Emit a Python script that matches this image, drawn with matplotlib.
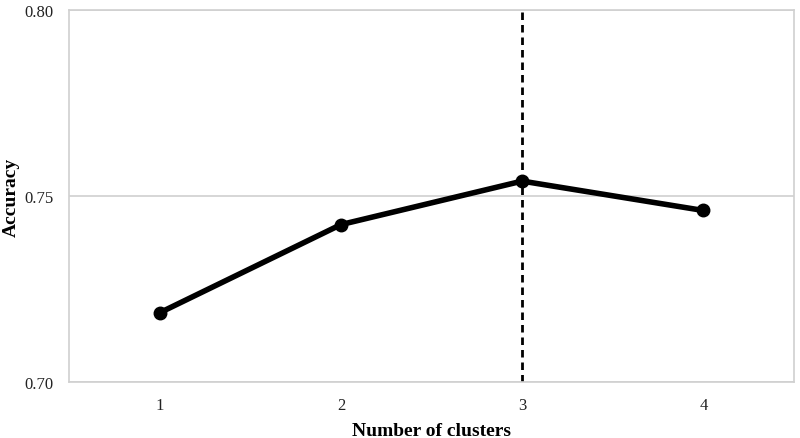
import matplotlib
matplotlib.use("Agg")
import matplotlib.pyplot as plt

# data
clusters = [1, 2, 3, 4]
accuracy = [0.7186, 0.7423, 0.7540, 0.7461]
best_k = 3
y_ticks = [0.70, 0.75, 0.80]

plt.rcParams['font.family'] = ['Liberation Serif', 'DejaVu Serif']

fig = plt.figure(figsize=(8, 4.39), dpi=100)
ax = fig.add_axes([0.08625, 0.1276, 0.90625, 0.8474])

grid_col = "#d0d0d0"
for y in y_ticks:
    ax.axhline(y, color=grid_col, lw=1.2, zorder=1)

# dashed marker for the chosen number of clusters
ax.axvline(best_k, color="black", lw=2.0, ls=(0, (2.7, 1.8)), zorder=2)
ax.plot(clusters, accuracy, color="black", lw=4, marker="o", markersize=9,
        solid_capstyle="round", zorder=3)

ax.set_xlim(0.5, 4.5)
ax.set_ylim(0.70, 0.80)
ax.set_xticks(clusters)
ax.set_yticks(y_ticks)
ax.set_yticklabels([f"{v:.2f}" for v in y_ticks])
ax.tick_params(length=0, labelsize=12, colors="#222222")
ax.tick_params(axis="y", pad=11)
ax.tick_params(axis="x", pad=11)

for s in ax.spines.values():
    s.set_color(grid_col)
    s.set_linewidth(1.2)

ax.set_xlabel("Number of clusters", fontsize=14, fontweight="bold")
ax.set_ylabel("Accuracy", fontsize=14, fontweight="bold")
# place axis titles where the reference has them
ax.xaxis.set_label_coords(0.5, -0.107)
ax.yaxis.set_label_coords(-0.068, 0.5)

fig.savefig("out.png", dpi=100)
